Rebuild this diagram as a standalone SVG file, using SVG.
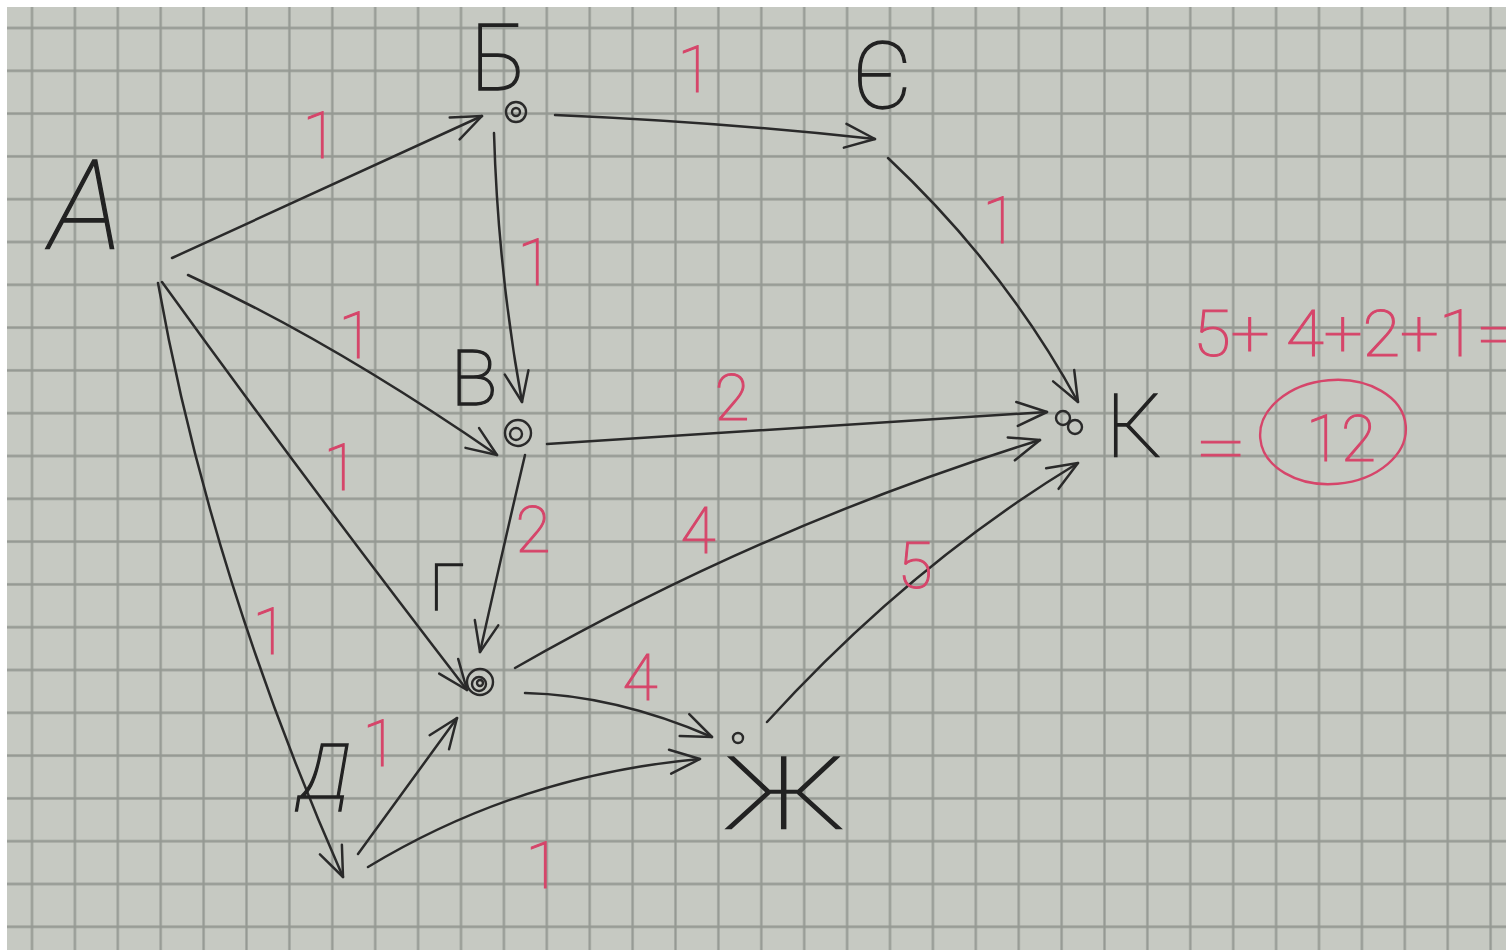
<svg xmlns="http://www.w3.org/2000/svg" width="1506" height="950" viewBox="0 0 1506 950">
  <style>
    .ink { fill: none; stroke: #2a2a2a; stroke-width: 2.4; stroke-linecap: round; stroke-linejoin: round; }
    .edge { fill: none; stroke: #2a2a2a; stroke-width: 2.5; stroke-linecap: round; marker-end: url(#head); }
    .lbl { font-family: Roboto, "Liberation Sans", sans-serif; font-weight: 100; fill: #222222; stroke: #222222; stroke-width: 1.3; text-anchor: middle; }
    .w { font-family: Roboto, "Liberation Sans", sans-serif; font-weight: 100; fill: #d6456a; stroke: #d6456a; stroke-width: 1.1; text-anchor: middle; font-size: 64px; }
    .ws { text-anchor: start; }
    .red { fill: none; stroke: #d6456a; stroke-width: 2.4; }
  </style>
  <defs>
    <pattern id="grid" patternUnits="userSpaceOnUse" x="10.55" y="6.6" width="42.9" height="42.8">
      <line x1="21.45" y1="0" x2="21.45" y2="42.8" stroke="#959993" stroke-width="2.3"/>
      <line x1="0" y1="21.4" x2="42.9" y2="21.4" stroke="#959993" stroke-width="2.3"/>
    </pattern>
    <marker id="head" markerUnits="userSpaceOnUse" viewBox="-36 -20 40 40" refX="0" refY="0" markerWidth="40" markerHeight="40" orient="auto" overflow="visible">
      <path d="M-30,-12 L0,0 L-30,12" fill="none" stroke="#2a2a2a" stroke-width="2.5" stroke-linecap="round" stroke-linejoin="round"/>
    </marker>
  </defs>

  <!-- paper -->
  <rect x="0" y="0" width="1506" height="950" fill="#ffffff"/>
  <rect x="7" y="7" width="1499" height="943" fill="#c6c9c2"/>
  <rect x="7" y="7" width="1499" height="943" fill="url(#grid)"/>

  <!-- connectors -->
  <g id="connectors">
    <path class="edge" d="M172,258 Q330,185 482,116"/>
    <path class="edge" d="M555,115 Q720,122 875,139"/>
    <path class="edge" d="M888,158 Q1005,268 1078,402"/>
    <path class="edge" d="M494,133 Q498,270 522,402"/>
    <path class="edge" d="M188,275 Q330,340 497,455"/>
    <path class="edge" d="M547,444 Q800,428 1047,412"/>
    <path class="edge" d="M162,282 Q305,480 467,690"/>
    <path class="edge" d="M525,455 Q505,540 480,652"/>
    <path class="edge" d="M515,668 Q765,525 1040,440"/>
    <path class="edge" d="M525,693 Q615,695 712,737"/>
    <path class="edge" d="M767,722 Q910,565 1078,463"/>
    <path class="edge" d="M158,283 Q210,575 343,877"/>
    <path class="edge" d="M358,854 L457,718"/>
    <path class="edge" d="M368,867 Q520,775 700,759"/>
  </g>

  <!-- edge weights -->
  <g id="weights">
    <text class="w" x="320" y="158">1</text>
    <text class="w" x="695" y="92">1</text>
    <text class="w" x="1000" y="243">1</text>
    <text class="w" x="535" y="285">1</text>
    <text class="w" x="356" y="358">1</text>
    <text class="w" x="732" y="420">2</text>
    <text class="w" x="341" y="490">1</text>
    <text class="w" x="533" y="552">2</text>
    <text class="w" x="698" y="553">4</text>
    <text class="w" x="915" y="588" font-size="76">5</text>
    <text class="w" x="270" y="654">1</text>
    <text class="w" x="640" y="700">4</text>
    <text class="w" x="380" y="766">1</text>
    <text class="w" x="543" y="888" font-size="74">1</text>
  </g>

  <!-- nodes -->
  <g id="node-A">
    <text class="lbl" x="86" y="248" font-size="124" font-style="italic">А</text>
  </g>
  <g id="node-B">
    <circle class="ink" cx="516" cy="112" r="10"/>
    <circle class="ink" cx="516" cy="112" r="4"/>
    <text class="lbl" x="499" y="90" font-size="92">Б</text>
  </g>
  <g id="node-E">
    <text class="lbl" x="882" y="108" font-size="92">Є</text>
  </g>
  <g id="node-V">
    <circle class="ink" cx="518" cy="433" r="13"/>
    <circle class="ink" cx="516" cy="434" r="6"/>
    <text class="lbl" x="474" y="405" font-size="78">В</text>
  </g>
  <g id="node-G">
    <circle class="ink" cx="480" cy="682" r="13"/>
    <circle class="ink" cx="479" cy="684" r="7"/>
    <circle class="ink" cx="480" cy="683" r="3"/>
    <text class="lbl" x="447" y="610" font-size="64">Г</text>
  </g>
  <g id="node-D">
    <text class="lbl" x="324" y="798" font-size="76" font-style="italic">Д</text>
  </g>
  <g id="node-Zh">
    <circle class="ink" cx="738" cy="738" r="5"/>
    <text class="lbl" x="784" y="828" font-size="100" textLength="118" lengthAdjust="spacingAndGlyphs">Ж</text>
  </g>
  <g id="node-K">
    <circle class="ink" cx="1063" cy="418" r="7"/>
    <circle class="ink" cx="1075" cy="427" r="7"/>
    <text class="lbl" x="1134" y="456" font-size="88">К</text>
  </g>

  <!-- sum of the path weights -->
  <g id="sum">
    <text class="w ws" x="1193" y="356" font-size="82" textLength="322" lengthAdjust="spacingAndGlyphs">5+ 4+2+1=</text>
    <text class="w ws" x="1195" y="470" font-size="96" textLength="52" lengthAdjust="spacingAndGlyphs">=</text>
    <ellipse class="red" cx="1333" cy="432" rx="73" ry="52" transform="rotate(-5 1333 432)"/>
    <text class="w" x="1341" y="461" font-size="80">12</text>
  </g>
</svg>
